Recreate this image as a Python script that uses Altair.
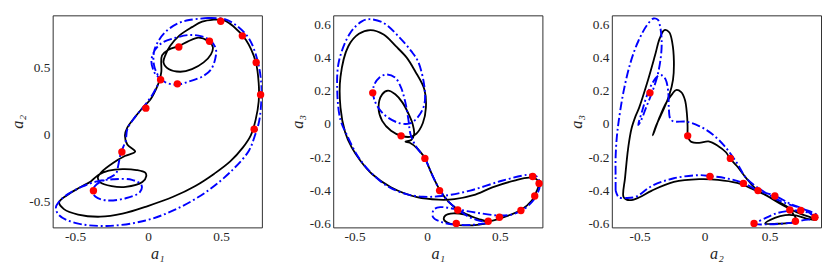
import altair as alt
import pandas as pd

# ---- red markers: (a1, a2, a3) of the 12 sampled states ----
RED_A1 = [-0.375, -0.18, -0.016, 0.085, 0.21, 0.20, 0.42, 0.497, 0.645, 0.726, 0.77, 0.74]
RED_A2 = [-0.42, -0.13, 0.198, 0.41, 0.655, 0.38, 0.698, 0.848, 0.739, 0.041, 0.298, 0.54]
RED_A3 = [0.189, -0.07, -0.206, -0.40, -0.517, -0.598, -0.585, -0.561, -0.52, -0.315, -0.357, -0.433]

# ---- panel 1 (a1, a2) ----
P1_BLACK = [(0.45,0.86),(0.52,0.855),(0.583,0.811),(0.67,0.708),(0.736,0.547),(0.757,0.386),(0.757,0.248),
    (0.736,0.11),(0.703,-0.005),(0.648,-0.097),(0.562,-0.2),(0.453,-0.292),(0.323,-0.384),(0.171,-0.465),
    (-0.003,-0.534),(-0.176,-0.591),(-0.328,-0.614),(-0.48,-0.598),(-0.577,-0.557),(-0.61,-0.506),
    (-0.556,-0.453),(-0.469,-0.396),(-0.393,-0.35),(-0.339,-0.30),(-0.27,-0.27),(-0.176,-0.258),
    (-0.08,-0.265),(-0.02,-0.285),(-0.013,-0.31),(-0.04,-0.355),(-0.154,-0.391),(-0.25,-0.385),
    (-0.33,-0.355),(-0.345,-0.32),(-0.32,-0.28),(-0.241,-0.212),(-0.16,-0.16),(-0.089,-0.127),
    (-0.143,-0.074),(-0.159,-0.005),(-0.143,0.052),(-0.089,0.133),(-0.046,0.19),(0.02,0.271),
    (0.063,0.363),(0.078,0.409),(0.09,0.47),(0.095,0.593),(0.14,0.635),(0.204,0.66),(0.27,0.695),
    (0.345,0.726),(0.41,0.70),(0.443,0.655),(0.43,0.60),(0.38,0.54),(0.30,0.49),(0.22,0.47),
    (0.14,0.49),(0.105,0.54),(0.12,0.60),(0.15,0.662),(0.215,0.742),(0.30,0.804),(0.37,0.845),(0.45,0.86)]
P1_BLUE = [(0.41,0.872),(0.52,0.865),(0.60,0.82),(0.69,0.72),(0.75,0.55),(0.775,0.38),(0.775,0.25),
    (0.76,0.10),(0.73,-0.01),(0.69,-0.12),(0.583,-0.258),(0.41,-0.419),(0.193,-0.557),(-0.024,-0.644),
    (-0.284,-0.683),(-0.501,-0.66),(-0.61,-0.603),(-0.632,-0.545),(-0.599,-0.488),(-0.544,-0.441),
    (-0.458,-0.391),(-0.35,-0.35),(-0.241,-0.334),(-0.111,-0.338),(-0.046,-0.377),(-0.057,-0.43),
    (-0.154,-0.476),(-0.284,-0.492),(-0.36,-0.465),(-0.382,-0.419),(-0.35,-0.37),(-0.28,-0.33),
    (-0.22,-0.29),(-0.205,-0.23),(-0.19,-0.15),(-0.17,-0.09),(-0.154,-0.051),(-0.143,0.04),
    (-0.089,0.133),(-0.03,0.21),(0.03,0.30),(0.065,0.37),(0.085,0.409),(0.045,0.46),(0.022,0.547),
    (0.045,0.63),(0.10,0.69),(0.193,0.726),(0.28,0.745),(0.367,0.735),(0.43,0.70),(0.464,0.639),
    (0.46,0.57),(0.432,0.49),(0.38,0.44),(0.28,0.397),(0.193,0.374),(0.12,0.39),(0.07,0.44),
    (0.04,0.52),(0.04,0.62),(0.07,0.70),(0.12,0.77),(0.20,0.83),(0.28,0.857),(0.41,0.872)]

# ---- panel 2 (a1, a3) ----
P2_BLACK = [(-0.013,-0.206),(0.035,-0.307),(0.089,-0.4),(0.144,-0.465),(0.216,-0.517),(0.296,-0.552),
    (0.383,-0.582),(0.42,-0.595),(0.36,-0.605),(0.25,-0.61),(0.16,-0.60),(0.115,-0.575),(0.125,-0.55),
    (0.18,-0.537),(0.26,-0.545),(0.35,-0.57),(0.422,-0.585),(0.51,-0.565),(0.645,-0.517),(0.72,-0.46),
    (0.755,-0.40),(0.77,-0.355),(0.75,-0.33),(0.70,-0.322),(0.60,-0.34),(0.448,-0.381),(0.318,-0.428),
    (0.187,-0.452),(0.078,-0.455),(-0.07,-0.44),(-0.25,-0.38),(-0.38,-0.30),(-0.46,-0.22),(-0.52,-0.14),
    (-0.565,-0.048),(-0.597,0.1),(-0.597,0.285),(-0.543,0.47),(-0.47,0.545),(-0.39,0.567),(-0.30,0.54),
    (-0.216,0.47),(-0.14,0.40),(-0.085,0.322),(-0.02,0.211),(-0.009,0.1),(-0.03,0.007),(-0.074,-0.057),
    (-0.11,-0.075),(-0.172,-0.072),(-0.249,-0.039),(-0.31,0.02),(-0.335,0.10),(-0.31,0.18),(-0.27,0.202),
    (-0.22,0.18),(-0.17,0.13),(-0.129,0.063),(-0.10,0.0),(-0.09,-0.06),(-0.11,-0.095),(-0.15,-0.105),
    (-0.12,-0.112),(-0.07,-0.145),(-0.013,-0.206)]
P2_BLUE = [(-0.013,-0.206),(0.035,-0.307),(0.089,-0.4),(0.15,-0.47),(0.216,-0.517),(0.28,-0.555),
    (0.35,-0.58),(0.42,-0.592),(0.30,-0.607),(0.19,-0.605),(0.10,-0.59),(0.04,-0.56),(0.045,-0.515),
    (0.09,-0.50),(0.209,-0.514),(0.35,-0.535),(0.492,-0.55),(0.58,-0.545),(0.651,-0.52),(0.72,-0.47),
    (0.75,-0.433),(0.775,-0.37),(0.76,-0.32),(0.732,-0.307),(0.688,-0.305),(0.514,-0.341),(0.296,-0.40),
    (0.1,-0.433),(-0.03,-0.437),(-0.15,-0.42),(-0.28,-0.37),(-0.40,-0.28),(-0.48,-0.19),(-0.55,-0.07),
    (-0.597,0.026),(-0.619,0.193),(-0.608,0.378),(-0.53,0.55),(-0.45,0.62),(-0.40,0.633),(-0.30,0.61),
    (-0.194,0.526),(-0.11,0.44),(-0.063,0.378),(-0.02,0.23),(-0.02,0.119),(-0.063,0.044),(-0.12,0.005),
    (-0.194,0.007),(-0.303,0.063),(-0.365,0.15),(-0.368,0.23),(-0.33,0.28),(-0.28,0.30),(-0.22,0.28),
    (-0.18,0.22),(-0.15,0.13),(-0.13,0.03),(-0.115,-0.06),(-0.08,-0.13),(-0.013,-0.206)]

# ---- panel 3 (a2, a3) ----
P3_BLACK = [(-0.132,-0.07),(-0.107,-0.104),(-0.042,-0.113),(0.03,-0.104),(0.103,-0.131),(0.164,-0.169),
    (0.195,-0.206),(0.248,-0.252),(0.321,-0.326),(0.394,-0.39),(0.491,-0.437),(0.612,-0.493),(0.733,-0.539),
    (0.83,-0.565),(0.86,-0.575),(0.80,-0.572),(0.70,-0.55),(0.62,-0.548),(0.54,-0.565),(0.466,-0.598),
    (0.56,-0.60),(0.66,-0.595),(0.705,-0.585),(0.70,-0.565),(0.68,-0.54),(0.66,-0.511),(0.515,-0.446),
    (0.37,-0.391),(0.249,-0.354),(0.103,-0.335),(-0.042,-0.331),(-0.236,-0.348),(-0.405,-0.40),(-0.50,-0.44),
    (-0.551,-0.456),(-0.60,-0.455),(-0.624,-0.437),(-0.612,-0.326),(-0.60,-0.23),(-0.587,-0.141),
    (-0.563,-0.03),(-0.53,0.05),(-0.503,0.1),(-0.442,0.248),(-0.381,0.415),(-0.345,0.517),(-0.309,0.567),
    (-0.272,0.554),(-0.248,0.489),(-0.236,0.378),(-0.243,0.267),(-0.272,0.174),(-0.32,0.081),(-0.374,-0.011),
    (-0.398,-0.067),(-0.385,-0.04),(-0.345,0.044),(-0.296,0.128),(-0.248,0.183),(-0.219,0.206),(-0.18,0.193),
    (-0.151,0.146),(-0.136,0.063),(-0.131,-0.011),(-0.132,-0.07)]
P3_BLUE = [(-0.684,-0.40),(-0.684,-0.326),(-0.684,-0.20),(-0.675,-0.08),(-0.66,0.02),(-0.624,0.193),
    (-0.57,0.37),(-0.51,0.50),(-0.44,0.60),(-0.393,0.637),(-0.36,0.63),(-0.34,0.58),(-0.33,0.50),
    (-0.335,0.415),(-0.36,0.30),(-0.40,0.20),(-0.45,0.10),(-0.49,0.02),(-0.51,-0.005),(-0.48,0.08),
    (-0.44,0.18),(-0.40,0.25),(-0.36,0.29),(-0.33,0.295),(-0.30,0.27),(-0.28,0.20),(-0.275,0.10),
    (-0.265,0.035),(-0.24,0.017),(-0.139,0.015),(-0.042,-0.011),(0.055,-0.057),(0.152,-0.131),
    (0.248,-0.233),(0.321,-0.326),(0.442,-0.40),(0.588,-0.465),(0.757,-0.511),(0.86,-0.545),(0.87,-0.56),
    (0.80,-0.535),(0.74,-0.522),(0.66,-0.522),(0.56,-0.535),(0.47,-0.565),(0.39,-0.60),(0.50,-0.603),
    (0.62,-0.598),(0.70,-0.59),(0.76,-0.578),(0.847,-0.567),(0.78,-0.52),(0.66,-0.48),(0.539,-0.431),
    (0.411,-0.40),(0.297,-0.354),(0.16,-0.325),(0.042,-0.313),(-0.042,-0.307),(-0.236,-0.326),
    (-0.405,-0.372),(-0.527,-0.437),(-0.60,-0.445),(-0.66,-0.44),(-0.684,-0.40)]

red = pd.DataFrame({"a1": RED_A1, "a2": RED_A2, "a3": RED_A3})

FONT = "Liberation Serif"
LABEL_EXPR = "datum.value < 0 ? '-' + format(-datum.value, '.1~f') : format(datum.value, '.1~f')"


def path_df(pts):
    return pd.DataFrame({"x": [p[0] for p in pts], "y": [p[1] for p in pts], "i": list(range(len(pts)))})


def axis(vals, title):
    return alt.Axis(values=vals, labelExpr=LABEL_EXPR, title=title, labelOverlap=False, labelFlush=False,
                    labelBound=False, labelFont=FONT, titleFont=FONT, grid=False, ticks=False, domain=False,
                    labelFontSize=14, labelColor="#262626", labelPadding=3, titleFontSize=17,
                    titleFontStyle="italic", titleFontWeight="normal", titleColor="#262626", titlePadding=3)


def panel(black, blue, xcol, ycol, xdom, ydom, xtitle, ytitle, yticks):
    xs = alt.Scale(domain=xdom, nice=False, zero=False)
    ys = alt.Scale(domain=ydom, nice=False, zero=False)
    xa = axis([-0.5, 0, 0.5], xtitle)
    ya = axis(yticks, ytitle)
    k = alt.Chart(path_df(black)).mark_line(color="black", strokeWidth=1.9, interpolate="catmull-rom", clip=True).encode(
        x=alt.X("x:Q", scale=xs, axis=xa), y=alt.Y("y:Q", scale=ys, axis=ya), order="i:Q")
    b = alt.Chart(path_df(blue)).mark_line(color="#0000ff", strokeWidth=2, strokeDash=[9, 3, 2, 3],
                                           interpolate="catmull-rom", clip=True).encode(
        x=alt.X("x:Q", scale=xs, axis=xa), y=alt.Y("y:Q", scale=ys, axis=ya), order="i:Q")
    r = alt.Chart(red).mark_circle(color="#ff0000", size=60, opacity=1).encode(
        x=alt.X(f"{xcol}:Q", scale=xs, axis=xa), y=alt.Y(f"{ycol}:Q", scale=ys, axis=ya))
    return alt.layer(k, b, r).properties(width=220, height=223)


yt1 = [-0.5, 0, 0.5]
yt23 = [-0.6, -0.4, -0.2, 0, 0.2, 0.4, 0.6]
c1 = panel(P1_BLACK, P1_BLUE, "a1", "a2", [-0.654, 0.779], [-0.694, 0.892], "a₁", "a₂", yt1)
c2 = panel(P2_BLACK, P2_BLUE, "a1", "a3", [-0.647, 0.793], [-0.622, 0.656], "a₁", "a₃", yt23)
c3 = panel(P3_BLACK, P3_BLUE, "a2", "a3", [-0.713, 0.895], [-0.622, 0.656], "a₂", "a₃", yt23)

chart = alt.hconcat(c1, c2, c3, spacing=25).properties(
    padding=0, background="white"
).configure_view(
    stroke="#262626", strokeWidth=1
).configure_axis(labelOverlap=False)

chart.save("out.html", embed_options={"renderer": "svg", "actions": False})
